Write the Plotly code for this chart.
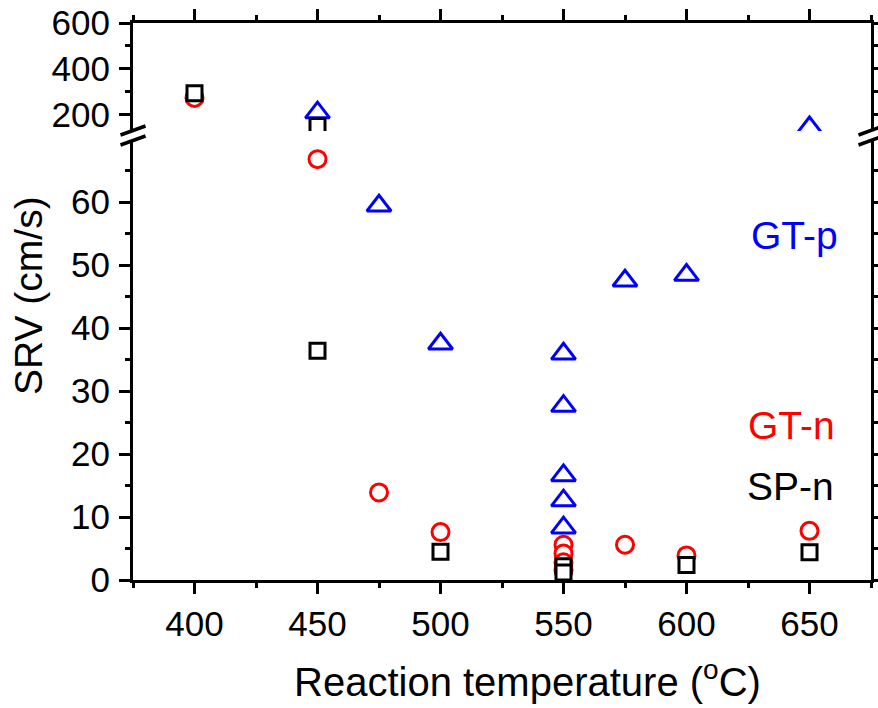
import plotly.graph_objects as go

# ---------------- data ----------------
temp_gtp = [450, 475, 500, 550, 550, 550, 550, 550, 575, 600, 650]
srv_gtp = [210, 59.4, 37.5, 35.9, 27.6, 16.6, 12.6, 8.3, 47.5, 48.4, 145]

temp_gtn = [400, 450, 475, 500, 550, 550, 550, 550, 575, 600, 650]
srv_gtn = [274, 66.8, 13.9, 7.6, 5.6, 4.2, 2.8, 1.6, 5.6, 3.9, 7.8]

temp_spn = [400, 450, 450, 500, 550, 550, 600, 650]
srv_spn = [294, 152, 36.4, 4.5, 2.2, 1.2, 2.4, 4.4]

x_ticks = [400, 450, 500, 550, 600, 650]
y_low_ticks = [0, 10, 20, 30, 40, 50, 60]
y_low_minor = [5, 15, 25, 35, 45, 55, 65]
y_up_ticks = [200, 400, 600]
y_up_minor = [300, 500]

# ---------------- layout geometry (pixels) ----------------
W, H = 878, 708
L, R, T, B = 133, 7, 23, 128
PW, PH = W - L - R, H - T - B
X_RANGE = [375, 675]
LOW_RANGE = [0, 70]
UP_RANGE = [130, 600]
low_top_px = 139
up_bot_px = 131
d1 = (H - B - low_top_px) / PH
d2 = (H - B - up_bot_px) / PH


def px(xp):
    return (xp - L) / PW


def py(yp):
    return (H - B - yp) / PH


FONT = "Liberation Sans, Arial, sans-serif"
BLUE, RED, BLACK = "#0000FF", "#FF0000", "#000000"

fig = go.Figure()

series = [
    (temp_gtp, srv_gtp, "triangle-up", 21, BLUE, "GT-p"),
    (temp_gtn, srv_gtn, "circle", 17, RED, "GT-n"),
    (temp_spn, srv_spn, "square", 15, BLACK, "SP-n"),
]
for xax, yax in [("x", "y"), ("x2", "y2")]:
    for xs, ys, sym, size, col, name in series:
        fig.add_trace(go.Scatter(
            x=xs, y=ys, mode="markers", name=name, showlegend=False,
            xaxis=xax, yaxis=yax, cliponaxis=True,
            marker=dict(symbol=sym, size=size, color="white",
                        line=dict(color=col, width=3)),
        ))

axis_common = dict(showgrid=False, zeroline=False, showline=True,
                   linecolor="black", linewidth=3, ticks="outside",
                   tickcolor="black", tickwidth=3, ticklen=11,
                   automargin=False)
tickfont = dict(family=FONT, size=35, color="black")
minor_x = dict(dtick=25, tick0=375, ticks="outside", ticklen=5,
               tickwidth=3, tickcolor="black")

fig.update_layout(
    width=W, height=H,
    margin=dict(l=L, r=R, t=T, b=B, autoexpand=False),
    paper_bgcolor="white", plot_bgcolor="white",
    showlegend=False,
    xaxis=dict(**axis_common, range=X_RANGE, anchor="y", domain=[0, 1],
               tickvals=x_ticks, tickfont=tickfont, ticklabelstandoff=0,
               minor=minor_x),
    xaxis2=dict(**axis_common, range=X_RANGE, anchor="y2", side="top",
                domain=[0, 1], tickvals=x_ticks, showticklabels=False,
                minor=minor_x),
    yaxis=dict(**axis_common, range=LOW_RANGE, domain=[0, d1], anchor="x",
               mirror="ticks", tickvals=y_low_ticks, tickfont=tickfont,
               ticklabelstandoff=2,
               minor=dict(tickvals=y_low_minor, ticks="outside", ticklen=5,
                          tickwidth=3, tickcolor="black")),
    yaxis2=dict(**axis_common, range=UP_RANGE, domain=[d2, 1], anchor="x2",
                mirror="ticks", tickvals=y_up_ticks, tickfont=tickfont,
                ticklabelstandoff=2,
                minor=dict(tickvals=y_up_minor, ticks="outside", ticklen=5,
                           tickwidth=3, tickcolor="black")),
)

# axis break marks on both sides
shapes = []
for xc in [L, L + PW]:
    x0, x1 = px(xc - 12.5), px(xc + 12.5)
    shapes.append(dict(type="path", xref="paper", yref="paper", layer="above",
                       path=f"M{x0},{py(145)} L{x1},{py(136)} L{x1},{py(126)} L{x0},{py(135)} Z",
                       fillcolor="white", line=dict(width=0)))
    for (ya, yb) in [(135, 126), (145, 136)]:
        shapes.append(dict(type="line", xref="paper", yref="paper", layer="above",
                           x0=x0, y0=py(ya), x1=x1, y1=py(yb),
                           line=dict(color="black", width=3.5)))
fig.update_layout(shapes=shapes)

annots = [
    dict(text="GT-p", x=px(794), y=py(235), color=BLUE, size=39),
    dict(text="GT-n", x=px(791), y=py(425), color=RED, size=39),
    dict(text="SP-n", x=px(790), y=py(486), color=BLACK, size=39),
]
for a in annots:
    fig.add_annotation(text=a["text"], x=a["x"], y=a["y"], xref="paper",
                       yref="paper", showarrow=False, xanchor="center",
                       yanchor="middle",
                       font=dict(family=FONT, size=a["size"], color=a["color"]))

fig.add_annotation(text="Reaction temperature (<sup>o</sup>C)", x=px(527),
                   y=py(679), xref="paper", yref="paper", showarrow=False,
                   xanchor="center", yanchor="middle",
                   font=dict(family=FONT, size=40, color="black"))
fig.add_annotation(text="SRV (cm/s)", x=px(28), y=py(296), xref="paper",
                   yref="paper", showarrow=False, textangle=-90,
                   xanchor="center", yanchor="middle",
                   font=dict(family=FONT, size=39, color="black"))

fig.write_html("out.html")
